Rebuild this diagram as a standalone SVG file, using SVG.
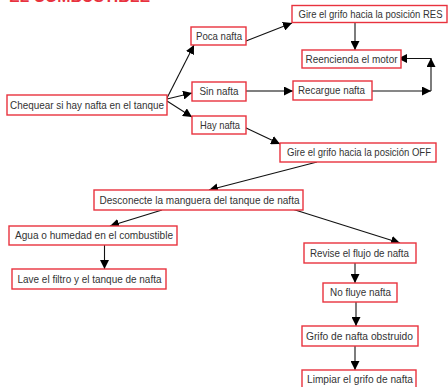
<svg xmlns="http://www.w3.org/2000/svg" width="448" height="387" viewBox="0 0 448 387">
<defs>
<marker id="ah" viewBox="0 0 10 10" refX="10" refY="5" markerWidth="9" markerHeight="9" markerUnits="userSpaceOnUse" orient="auto">
<path d="M0,0 L10,5 L0,10 z" fill="#000"/>
</marker>
<style>
.box{fill:#fff;stroke:#e8323e;stroke-width:1.4}
.t{font-family:"Liberation Sans",Arial,sans-serif;font-size:10.5px;fill:#333;text-anchor:middle}
.c{stroke:#111;stroke-width:1.1;fill:none;marker-end:url(#ah)}
.g{stroke:#555;stroke-width:1.4;fill:none;marker-end:url(#ah)}
.title{font-family:"Liberation Sans",Arial,sans-serif;font-size:16px;font-weight:bold;fill:#e8323e}
</style>
</defs>
<rect width="448" height="387" fill="#fff"/>
<text class="title" x="9" y="1.5" textLength="141" lengthAdjust="spacingAndGlyphs">EL COMBUSTIBLE</text>
<g id="connectors">
<line class="c" x1="167" y1="98" x2="194" y2="45"/>
<line class="c" x1="167" y1="99" x2="192" y2="93"/>
<line class="c" x1="167" y1="101" x2="192" y2="117"/>
<line class="c" x1="246" y1="41" x2="292" y2="23"/>
<line class="c" x1="355" y1="22" x2="355" y2="50"/>
<line class="g" x1="246" y1="91" x2="293" y2="91"/>
<line class="c" x1="372" y1="91" x2="431" y2="91"/>
<line class="c" x1="431" y1="91" x2="431" y2="58"/>
<line class="c" x1="431" y1="58.5" x2="398" y2="58.5"/>
<line class="c" x1="244" y1="127" x2="280" y2="144"/>
<line class="c" x1="317" y1="162" x2="209" y2="190"/>
<line class="c" x1="162" y1="210" x2="110" y2="226"/>
<line class="c" x1="292" y1="209" x2="400" y2="243"/>
<line class="c" x1="104.5" y1="245" x2="104.5" y2="269"/>
<line class="c" x1="355" y1="263" x2="355" y2="283"/>
<line class="c" x1="356" y1="302" x2="356" y2="326"/>
<line class="c" x1="355" y1="346" x2="355" y2="370"/>
</g>
<g id="n_chequear"><rect class="box" x="7" y="95" width="160" height="20"/><text class="t" x="87" y="108.5" textLength="154" lengthAdjust="spacingAndGlyphs">Chequear si hay nafta en el tanque</text></g>
<g id="n_poca"><rect class="box" x="191" y="27" width="55" height="18"/><text class="t" x="219" y="39.5" textLength="46" lengthAdjust="spacingAndGlyphs">Poca nafta</text></g>
<g id="n_sin"><rect class="box" x="192" y="82" width="54" height="19"/><text class="t" x="219" y="95" textLength="39" lengthAdjust="spacingAndGlyphs">Sin nafta</text></g>
<g id="n_hay"><rect class="box" x="192" y="116" width="54" height="18"/><text class="t" x="220" y="128.5" textLength="40" lengthAdjust="spacingAndGlyphs">Hay nafta</text></g>
<g id="n_res"><rect class="box" x="292" y="5.5" width="155" height="17"/><text class="t" x="370.5" y="17.5" textLength="144" lengthAdjust="spacingAndGlyphs">Gire el grifo hacia la posición RES</text></g>
<g id="n_reencienda"><rect class="box" x="302" y="50" width="99" height="18"/><text class="t" x="351.5" y="62.5" textLength="92" lengthAdjust="spacingAndGlyphs">Reencienda el motor</text></g>
<g id="n_recargue"><rect class="box" x="293" y="81" width="79" height="19"/><text class="t" x="331.5" y="94" textLength="67" lengthAdjust="spacingAndGlyphs">Recargue nafta</text></g>
<g id="n_off"><rect class="box" x="280" y="143" width="156" height="19"/><text class="t" x="359" y="156" textLength="144" lengthAdjust="spacingAndGlyphs">Gire el grifo hacia la posición OFF</text></g>
<g id="n_desconecte"><rect class="box" x="94" y="190" width="209" height="20"/><text class="t" x="199.5" y="203.5" textLength="200" lengthAdjust="spacingAndGlyphs">Desconecte la manguera del tanque de nafta</text></g>
<g id="n_agua"><rect class="box" x="9" y="226" width="168" height="19"/><text class="t" x="94" y="239" textLength="158" lengthAdjust="spacingAndGlyphs">Agua o humedad en el combustible</text></g>
<g id="n_lave"><rect class="box" x="12" y="269" width="154" height="20"/><text class="t" x="89.5" y="282.5" textLength="144" lengthAdjust="spacingAndGlyphs">Lave el filtro y el tanque de nafta</text></g>
<g id="n_revise"><rect class="box" x="304" y="243" width="112" height="20"/><text class="t" x="359.5" y="256.5" textLength="99" lengthAdjust="spacingAndGlyphs">Revise el flujo de nafta</text></g>
<g id="n_nofluye"><rect class="box" x="323" y="283" width="74" height="19"/><text class="t" x="360.5" y="296" textLength="61" lengthAdjust="spacingAndGlyphs">No fluye nafta</text></g>
<g id="n_grifo"><rect class="box" x="302" y="326" width="116" height="20"/><text class="t" x="359.5" y="339.5" textLength="107" lengthAdjust="spacingAndGlyphs">Grifo de nafta obstruido</text></g>
<g id="n_limpiar"><rect class="box" x="302" y="370" width="114" height="18"/><text class="t" x="360" y="383" textLength="106" lengthAdjust="spacingAndGlyphs">Limpiar el grifo de nafta</text></g>
</svg>
